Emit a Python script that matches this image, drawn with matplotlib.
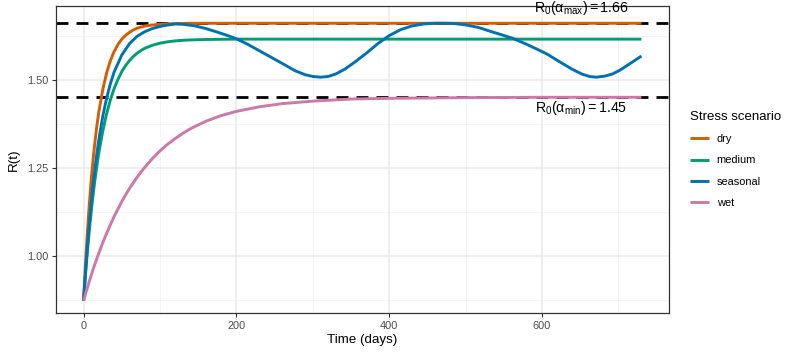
import matplotlib
matplotlib.use("Agg")
import matplotlib.pyplot as plt
from matplotlib.lines import Line2D

plt.rcParams['font.family'] = ['Liberation Sans', 'DejaVu Sans']
plt.rcParams['mathtext.fontset'] = 'custom'
plt.rcParams['mathtext.rm'] = 'Liberation Sans'
plt.rcParams['mathtext.it'] = 'Liberation Sans:italic'
plt.rcParams['mathtext.bf'] = 'Liberation Sans:bold'

# ---- data ----
days = [0, 2.5, 5, 7.5, 10, 12.5, 15, 17.5, 20,
        25, 30, 35, 40, 45, 50, 55, 60, 65, 70, 75, 80,
        90, 100, 110, 120, 130, 140,
        160, 180, 200, 230, 260, 300, 350, 400, 500, 600, 730]
dry = [0.873, 0.978, 1.069, 1.147, 1.216, 1.275, 1.326, 1.371, 1.409,
       1.471, 1.518, 1.5535, 1.580, 1.600, 1.615, 1.626, 1.634, 1.641, 1.646, 1.649, 1.652,
       1.655, 1.657, 1.6585, 1.659, 1.6595, 1.660,
       1.660, 1.660, 1.660, 1.660, 1.660, 1.660, 1.660, 1.660, 1.660, 1.660, 1.660]
medium = [0.873, 0.946, 1.013, 1.072, 1.126, 1.174, 1.218, 1.257, 1.293,
          1.353, 1.402, 1.442, 1.475, 1.501, 1.523, 1.540, 1.554, 1.5656, 1.575, 1.5824, 1.589,
          1.5975, 1.6035, 1.6074, 1.610, 1.6117, 1.6128,
          1.614, 1.6145, 1.615, 1.615, 1.615, 1.615, 1.615, 1.615, 1.615, 1.615, 1.615]
wet = [0.873, 0.892, 0.910, 0.928, 0.945, 0.962, 0.978, 0.993, 1.008,
       1.037, 1.063, 1.088, 1.112, 1.133, 1.154, 1.173, 1.191, 1.2074, 1.223, 1.2377, 1.251,
       1.276, 1.298, 1.3169, 1.333, 1.348, 1.361,
       1.382, 1.398, 1.410, 1.423, 1.432, 1.439, 1.445, 1.447, 1.449, 1.450, 1.450]

seasonal_days = [0, 2.5, 5, 7.5, 10, 12.5, 15, 17.5, 20, 25, 30, 35, 40, 50, 60, 70, 80, 90,
                 100, 110, 120, 130, 145, 160, 175, 190, 201, 215, 230, 245, 260, 277, 290,
                 300, 310, 320, 330, 342, 355, 370, 385, 400, 415, 429, 445, 460, 473, 486,
                 501, 517, 531, 546, 562, 577, 592, 607, 622, 639, 652, 662, 671, 682, 692,
                 702, 714, 730]
seasonal = [0.873, 0.954, 1.027, 1.092, 1.151, 1.203, 1.250, 1.292, 1.330, 1.395, 1.446, 1.488,
            1.522, 1.570, 1.602, 1.623, 1.636, 1.645, 1.651, 1.655, 1.658, 1.657, 1.653, 1.645,
            1.635, 1.624, 1.615, 1.600, 1.582, 1.564, 1.546, 1.525, 1.514, 1.509, 1.507, 1.509,
            1.516, 1.530, 1.550, 1.575, 1.602, 1.625, 1.642, 1.652, 1.658, 1.660, 1.660, 1.659,
            1.655, 1.648, 1.638, 1.628, 1.617, 1.603, 1.588, 1.572, 1.552, 1.530, 1.516, 1.509,
            1.507, 1.510, 1.516, 1.527, 1.544, 1.567]

scenarios = ['dry', 'medium', 'seasonal', 'wet']
colors = ['#D55E00', '#009E73', '#0072B2', '#CC79A7']
r0_max = 1.66
r0_min = 1.45
x_ticks = [0, 200, 400, 600]
y_ticks = [1.00, 1.25, 1.50]
y_tick_labels = ['1.00', '1.25', '1.50']

# ---- figure ----
W, H = 797, 354
fig = plt.figure(figsize=(W / 100, H / 100), dpi=100)
L, R, T, B = 55.7, 669.3, 6.0, 313.3
ax = fig.add_axes([L / W, 1 - B / H, (R - L) / W, (B - T) / H])

ax.set_xlim(-36.5, 766.5)
ax.set_ylim(0.837, 1.709)

# grid
for v in [100, 300, 500, 700]:
    ax.axvline(v, color='#F2F2F2', lw=0.55, zorder=0)
for v in [0.875, 1.125, 1.375, 1.625]:
    ax.axhline(v, color='#F2F2F2', lw=0.55, zorder=0)
for v in x_ticks:
    ax.axvline(v, color='#EBEBEB', lw=1.1, zorder=0)
for v in y_ticks:
    ax.axhline(v, color='#EBEBEB', lw=1.1, zorder=0)

# reference lines
for v in [r0_max, r0_min]:
    ax.axhline(v, color='black', lw=2.0, dashes=(4.3, 2.9), zorder=1)

series = {'dry': (days, dry), 'medium': (days, medium),
          'seasonal': (seasonal_days, seasonal), 'wet': (days, wet)}
handles = []
for name, col in zip(scenarios, colors):
    xs, ys = series[name]
    ax.plot(xs, ys, color=col, lw=2.1, solid_capstyle='butt', solid_joinstyle='round', zorder=2)
    handles.append(Line2D([], [], color=col, lw=2.1, solid_capstyle='butt'))

ax.text(651, r0_max + 0.033, r'$\mathrm{R_0(α_{max})} = 1.66$', ha='center', va='baseline',
        fontsize=10.2, color='black', zorder=3)
ax.text(651, r0_min - 0.042, r'$\mathrm{R_0(α_{min})} = 1.45$', ha='center', va='baseline',
        fontsize=10.2, color='black', zorder=3)

ax.set_xticks(x_ticks)
ax.set_yticks(y_ticks)
ax.set_yticklabels(y_tick_labels)
ax.tick_params(axis='both', length=3, width=0.8, color='#333333', labelcolor='#4D4D4D',
               labelsize=7.9, pad=2.5)
for sp in ax.spines.values():
    sp.set_color('#333333')
    sp.set_linewidth(0.9)

ax.set_xlabel('Time (days)', fontsize=9.6, color='black', labelpad=2.5)
ax.set_ylabel('R(t)', fontsize=9.6, color='black', labelpad=5)

leg = fig.legend(handles, scenarios, title='Stress scenario', loc='upper left',
                 bbox_to_anchor=(690 / W, 1 - 111 / H), frameon=False,
                 fontsize=7.9, title_fontsize=9.5, handlelength=1.7, handletextpad=0.72,
                 labelspacing=1.02, borderpad=0, borderaxespad=0)
leg._legend_box.align = 'left'

fig.savefig('out.png', dpi=100)
